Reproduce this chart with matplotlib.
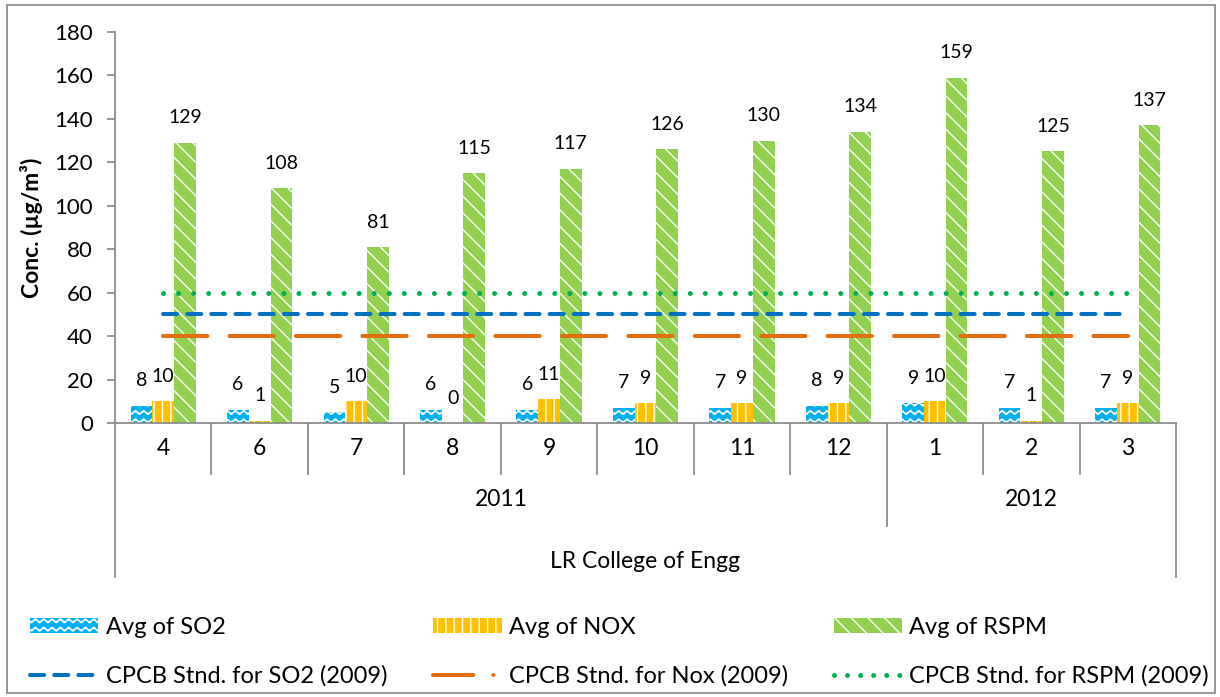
import matplotlib
matplotlib.use("Agg")
import matplotlib.pyplot as plt
from matplotlib import hatch as mhatch
from matplotlib.path import Path
from matplotlib.lines import Line2D
from matplotlib.patches import Patch, Rectangle
import numpy as np

plt.rcParams['font.family'] = ['Lato', 'DejaVu Sans']
plt.rcParams['hatch.linewidth'] = 1.0


# '-' hatch drawn as wavy lines (like the Excel "wave" pattern)
class WaveHatch(mhatch.HatchPatternBase):
    def __init__(self, hatch, density):
        self.num_lines = int((hatch.count('-') + hatch.count('+')) * density)
        self.npts = 8 * self.num_lines + 1
        self.num_vertices = self.num_lines * self.npts

    def set_vertices_and_codes(self, vertices, codes):
        n = self.num_lines
        t = np.linspace(0, 1, self.npts)
        for i in range(n):
            y0 = (i + 0.5) / n
            seg = slice(i * self.npts, (i + 1) * self.npts)
            vertices[seg, 0] = t
            vertices[seg, 1] = y0 + 0.22 / n * np.sin(2 * np.pi * n * t)
            codes[seg] = Path.LINETO
            codes[i * self.npts] = Path.MOVETO


mhatch._hatch_types = [WaveHatch if h is mhatch.HorizontalHatch else h
                       for h in mhatch._hatch_types]

# data
months = ['4', '6', '7', '8', '9', '10', '11', '12', '1', '2', '3']
years = ['2011', '2012']
year_span = [(0, 7), (8, 10)]
so2 = [8, 6, 5, 6, 6, 7, 7, 8, 9, 7, 7]
nox = [10, 1, 10, 0, 11, 9, 9, 9, 10, 1, 9]
rspm = [129, 108, 81, 115, 117, 126, 130, 134, 159, 125, 137]
std_so2 = 50
std_nox = 40
std_rspm = 60

c_so2 = '#00B0F0'
c_nox = '#FFC000'
c_rspm = '#92D050'
c_lso2 = '#0070C0'
c_lnox = '#E46C0A'
c_lrspm = '#00B050'
grey = '#8C8C8C'

W, H = 1220, 697
fig = plt.figure(figsize=(W / 100, H / 100), dpi=100)
ax = fig.add_axes([115 / W, 1 - 423 / H, (1176 - 115) / W, (423 - 32) / H])

x = np.arange(len(months))
bw = 0.225
ax.bar(x - bw, so2, bw, color=c_so2, edgecolor='white', lw=0, hatch='--')
ax.bar(x, nox, bw, color=c_nox, edgecolor='white', lw=0, hatch='||')
ax.bar(x + bw, rspm, bw, color=c_rspm, edgecolor='white', lw=0, hatch='\\\\')

for vals, off in [(so2, -bw), (nox, 0), (rspm, bw)]:
    for xi, v in zip(x, vals):
        ax.annotate(str(v), (xi + off, v), xytext=(0, 18), textcoords='offset points',
                    ha='center', va='center', fontsize=14)

lw = 2.9
ax.plot(x, [std_nox] * len(x), color=c_lnox, lw=lw, ls=(0, (11, 5.5)),
        dash_capstyle='round', zorder=4)
ax.plot(x, [std_so2] * len(x), color=c_lso2, lw=lw, ls=(0, (3.5, 2.5)),
        dash_capstyle='round', zorder=4)
ax.plot(x, [std_rspm] * len(x), color=c_lrspm, lw=3.6, ls=(0, (0.01, 3)),
        dash_capstyle='round', zorder=4)

ax.set_xlim(-0.5, len(months) - 0.5)
ax.set_ylim(0, 180)
ax.set_yticks(range(0, 181, 20))
ax.set_xticks([])
ax.tick_params(axis='y', length=6, color=grey, width=1.3, labelsize=16, pad=10)
for s in ['top', 'right']:
    ax.spines[s].set_visible(False)
for s in ['left', 'bottom']:
    ax.spines[s].set_color(grey)
    ax.spines[s].set_linewidth(1.3)

ax.set_ylabel('Conc. (µg/m³)', fontsize=16.5, fontweight='bold', labelpad=8)

# multi-level category axis
tr = ax.get_xaxis_transform()
y1, y2, y3 = -0.130, -0.263, -0.394
for i in range(1, len(months)):
    yb = y2 if i == 8 else y1
    ax.add_line(Line2D([i - 0.5, i - 0.5], [0, yb], transform=tr, color=grey, lw=1.3, clip_on=False))
for xe in [-0.5, len(months) - 0.5]:
    ax.add_line(Line2D([xe, xe], [0, y3], transform=tr, color=grey, lw=1.3, clip_on=False))
for xi, m in zip(x, months):
    ax.text(xi, -0.066, m, transform=tr, ha='center', va='center', fontsize=16.5)
for (a, b), yr in zip(year_span, years):
    ax.text((a + b) / 2, -0.196, yr, transform=tr, ha='center', va='center', fontsize=16.5)
ax.text((len(months) - 1) / 2, -0.355, 'LR College of Engg', transform=tr,
        ha='center', va='center', fontsize=16.5)

# legend
handles = [
    Patch(facecolor=c_so2, edgecolor='white', lw=0, hatch='--'),
    Line2D([], [], color=c_lso2, lw=lw, ls=(0, (3.5, 2.5)), dash_capstyle='round'),
    Patch(facecolor=c_nox, edgecolor='white', lw=0, hatch='||'),
    Line2D([], [], color=c_lnox, lw=lw, ls=(0, (10, 5, 0.01, 5)), dash_capstyle='round'),
    Patch(facecolor=c_rspm, edgecolor='white', lw=0, hatch='\\\\'),
    Line2D([], [], color=c_lrspm, lw=3.6, ls=(0, (0.01, 2.6)), dash_capstyle='round'),
]
labels = ['Avg of SO2', 'CPCB Stnd. for SO2 (2009)', 'Avg of NOX',
          'CPCB Stnd. for Nox (2009)', 'Avg of RSPM', 'CPCB Stnd. for RSPM (2009)']
fig.legend(handles, labels, ncol=3, loc='upper left', bbox_to_anchor=(30 / W, 1 - 617 / H),
           frameon=False, fontsize=17, borderaxespad=0, borderpad=0,
           handlelength=2.9, handleheight=0.6, handletextpad=0.3,
           columnspacing=1.95, labelspacing=1.14)

fig.add_artist(Rectangle((7 / W, 4 / H), (1215 - 7) / W, (692 - 4) / H, transform=fig.transFigure,
                         fill=False, edgecolor=grey, lw=1.3))

fig.savefig('out.png', dpi=100)
